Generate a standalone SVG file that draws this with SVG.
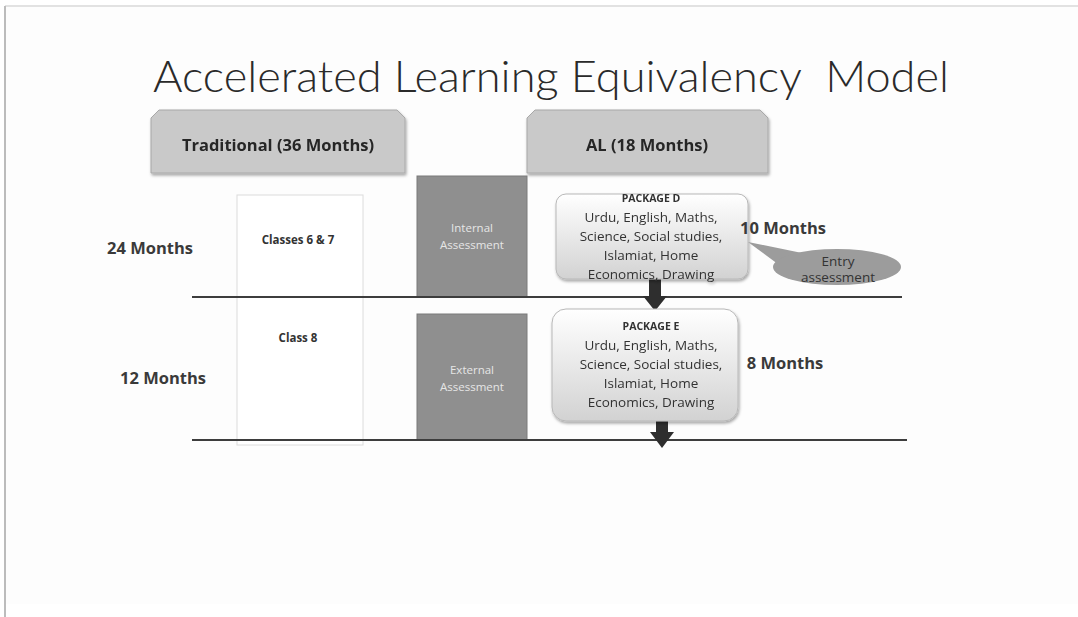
<svg xmlns="http://www.w3.org/2000/svg" width="1078" height="617" viewBox="0 0 1078 617">
<defs>
<linearGradient id="pkg" x1="0" y1="0" x2="0" y2="1">
<stop offset="0" stop-color="#ffffff"/>
<stop offset="1" stop-color="#d2d2d2"/>
</linearGradient>
<filter id="sh" x="-10%" y="-10%" width="130%" height="130%">
<feDropShadow dx="1" dy="2" stdDeviation="1.5" flood-color="#000" flood-opacity="0.35"/>
</filter>
</defs>
<style>
.hdr{fill:#c9c9c9;stroke:#a8a8a8;stroke-width:1}
.hdrt{font-family:"Open Sans","Liberation Sans",sans-serif;font-weight:bold;font-size:16.5px;fill:#262626;text-anchor:middle}
.lbl{font-family:"Open Sans","Liberation Sans",sans-serif;font-weight:bold;font-size:16.5px;fill:#3a3a3a;text-anchor:middle}
.small{font-family:"Open Sans","Liberation Sans",sans-serif;font-weight:bold;font-size:11.5px;fill:#333;text-anchor:middle}
.assess{fill:#8f8f8f;stroke:#7a7a7a;stroke-width:1}
.assesst{font-family:"Open Sans","Liberation Sans",sans-serif;font-size:11.5px;fill:#e6e6e6;text-anchor:middle}
.pkg{fill:url(#pkg);stroke:#b8b8b8;stroke-width:1}
.pkgt{font-family:"Open Sans","Liberation Sans",sans-serif;font-size:13.5px;fill:#333;text-anchor:middle}
.pkgh{font-family:"Open Sans","Liberation Sans",sans-serif;font-weight:bold;font-size:10.5px;fill:#333;text-anchor:middle}
.hline{stroke:#3d3d3d;stroke-width:2}
.arrow{fill:#2e2e2e}
</style>
<rect x="0" y="0" width="1078" height="617" fill="#ffffff"/>
<rect x="5" y="6" width="1073" height="598" fill="#fdfdfd"/>
<line x1="5" y1="6" x2="1078" y2="6" stroke="#d8d8d8" stroke-width="1.5"/>
<line x1="5" y1="6" x2="5" y2="617" stroke="#bcbcbc" stroke-width="2"/>

<text x="551" y="92" font-family="Lato,'Open Sans','Liberation Sans',sans-serif" font-weight="300" font-size="43" fill="#2a2a2a" text-anchor="middle" textLength="796" lengthAdjust="spacingAndGlyphs" xml:space="preserve">Accelerated Learning Equivalency  Model</text>

<g id="hdr-traditional" filter="url(#sh)">
<path class="hdr" d="M159,110 H397 L405,118 V173 H151 V118 Z"/>
<text class="hdrt" x="278" y="151">Traditional (36 Months)</text>
</g>
<g id="hdr-al" filter="url(#sh)">
<path class="hdr" d="M535,110 H760 L768,118 V173 H527 V118 Z"/>
<text class="hdrt" x="647" y="151">AL (18 Months)</text>
</g>

<g id="label-24"><text class="lbl" x="150" y="254">24 Months</text></g>
<g id="label-12"><text class="lbl" x="163" y="384">12 Months</text></g>

<g id="classes">
<rect x="237" y="195" width="126" height="250" fill="#ffffff" stroke="#dcdcdc" stroke-width="1"/>
<text class="small" x="298" y="244">Classes 6 &amp; 7</text>
<text class="small" x="298" y="342">Class 8</text>
</g>

<g id="internal">
<rect class="assess" x="417" y="176" width="110" height="121"/>
<text class="assesst" x="472" y="232">Internal</text>
<text class="assesst" x="472" y="249">Assessment</text>
</g>
<g id="external">
<rect class="assess" x="417" y="314" width="110" height="126"/>
<text class="assesst" x="472" y="374">External</text>
<text class="assesst" x="472" y="391">Assessment</text>
</g>

<g id="connectors">
<line class="hline" x1="192" y1="297" x2="902" y2="297"/>
<line class="hline" x1="192" y1="440" x2="907" y2="440"/>
<path class="arrow" d="M649,278 H661 V296 H667 L655,311 L643,296 H649 Z"/>
<path class="arrow" d="M656,418 H668 V432 H674 L662,448 L650,432 H656 Z"/>
</g>

<g id="package-d" filter="url(#sh)">
<rect class="pkg" x="556" y="194" width="192" height="85" rx="10"/>
<text class="pkgh" x="651" y="202">PACKAGE D</text>
<text class="pkgt" x="651" y="222">Urdu, English, Maths,</text>
<text class="pkgt" x="651" y="241">Science, Social studies,</text>
<text class="pkgt" x="651" y="260">Islamiat, Home</text>
<text class="pkgt" x="651" y="279">Economics, Drawing</text>
</g>
<g id="label-10"><text class="lbl" x="783" y="234">10 Months</text></g>

<g id="entry">
<polygon points="748,242 802,253 786,270" fill="#9c9c9c"/>
<ellipse cx="837" cy="267" rx="64" ry="18" fill="#9c9c9c"/>
<text class="pkgt" x="838" y="266" font-size="12.5">Entry</text>
<text class="pkgt" x="838" y="282" font-size="12.5">assessment</text>
</g>

<g id="package-e" filter="url(#sh)">
<rect class="pkg" x="552" y="309" width="186" height="112" rx="14"/>
<text class="pkgh" x="651" y="330">PACKAGE E</text>
<text class="pkgt" x="651" y="350">Urdu, English, Maths,</text>
<text class="pkgt" x="651" y="369">Science, Social studies,</text>
<text class="pkgt" x="651" y="388">Islamiat, Home</text>
<text class="pkgt" x="651" y="407">Economics, Drawing</text>
</g>
<g id="label-8"><text class="lbl" x="785" y="369">8 Months</text></g>
</svg>
